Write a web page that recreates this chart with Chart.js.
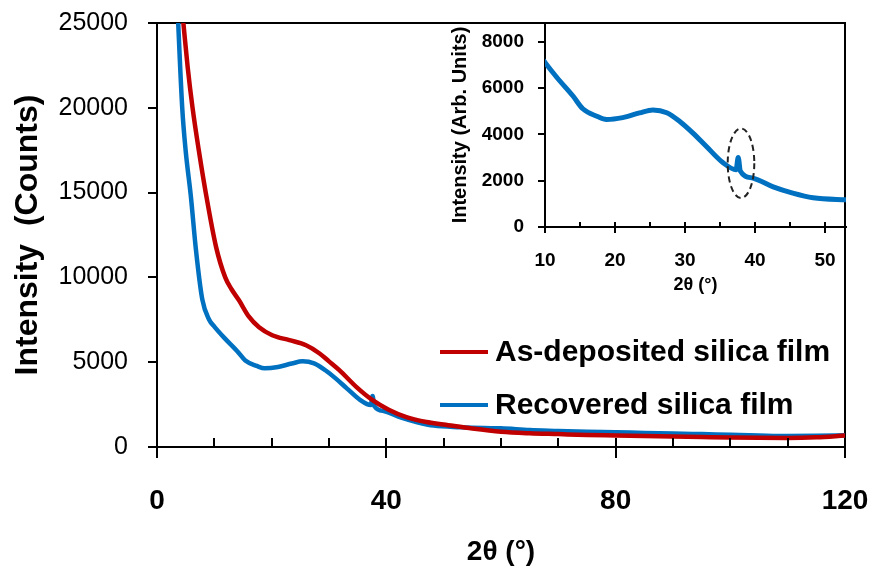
<!DOCTYPE html>
<html>
<head>
<meta charset="utf-8">
<script src="https://cdn.jsdelivr.net/npm/chart.js@4.4.0/dist/chart.umd.min.js"></script>
<style>
  body { margin: 0; background: #fff; }
  #wrap { position: relative; width: 875px; height: 574px; }
  #main { position: absolute; left: 0; top: 0; }
  #inset { position: absolute; left: 440px; top: 0; }
</style>
</head>
<body>
<div id="wrap">
  <canvas id="main" width="875" height="574"></canvas>
  <canvas id="inset" width="435" height="300"></canvas>
</div>
<script>
// values (2theta in degrees, intensity in counts)
const depositedAngle = [4.2, 4.6, 5.35, 6.2, 7.3, 8.5, 10.3, 11.9, 13.0, 14.3, 16.0, 17.8, 20.1, 23.1, 26.0, 28.3, 30.0, 31.8, 34.8, 37.6, 40.5, 43.5, 47.0, 50.0, 55.0, 60.0, 65.0, 70.0, 75.0, 80.0, 85.0, 90.0, 95.0, 100.0, 105.0, 110.0, 115.0, 120.0];
const depositedCounts = [26400, 25000, 22400, 20000, 17470, 15000, 11800, 10000, 9300, 8650, 7700, 7060, 6590, 6300, 6000, 5530, 5050, 4530, 3530, 2760, 2180, 1760, 1470, 1330, 1090, 900, 810, 760, 710, 680, 650, 620, 590, 560, 540, 530, 570, 680];

const recoveredAngle = [3.4, 3.7, 4.4, 5.0, 5.9, 6.8, 7.9, 9.1, 10.0, 11.7, 14.0, 15.4, 17.4, 18.8, 21.1, 23.5, 25.4, 27.4, 29.3, 31.1, 33.1, 35.4, 37.3, 37.6, 37.9, 39.7, 42.6, 45.4, 48.3, 53.0, 57.0, 60.0, 65.0, 70.0, 75.0, 80.0, 85.0, 90.0, 95.0, 100.0, 105.0, 110.0, 115.0, 120.0];
const recoveredCounts = [27500, 25000, 20000, 17470, 14800, 11600, 8700, 7500, 7100, 6450, 5650, 5100, 4780, 4640, 4720, 4920, 5050, 4930, 4540, 4060, 3460, 2780, 2470, 3000, 2420, 2110, 1730, 1460, 1260, 1170, 1120, 1100, 1000, 950, 900, 870, 830, 800, 760, 720, 680, 650, 660, 700];

const seriesLabels = ['As-deposited silica film', 'Recovered silica film'];
const mainXLabels = [0, 40, 80, 120];
const insetXTicks = [10, 15, 20, 25, 30, 35, 40, 45, 50];
const insetXLabels = [10, 20, 30, 40, 50];
const insetYTicks = [0, 2000, 4000, 6000, 8000];

// dashed ring around the small peak in the inset: centre and half-sizes in data units
const highlightCenter = [38.0, 2750];
const highlightRadius = [1.9, 1500];

const RED = '#C00000';
const BLUE = '#0070C0';
const FONT = '"Liberation Sans", Arial, sans-serif';

const pts = (xs, ys) => xs.map((x, i) => ({ x: x, y: ys[i] }));
const asTicks = vals => vals.map(v => ({ value: v }));

// short ticks pointing into the plot on the x axis
const innerTicks = {
  id: 'innerTicks',
  afterDatasetsDraw(chart, args, opts) {
    const { ctx, chartArea } = chart;
    const sx = chart.scales.x;
    ctx.save();
    ctx.strokeStyle = '#000';
    ctx.lineWidth = opts.width;
    sx.ticks.forEach(t => {
      const px = Math.round(sx.getPixelForValue(t.value));
      ctx.beginPath();
      ctx.moveTo(px, chartArea.bottom);
      ctx.lineTo(px, chartArea.bottom - opts.length);
      ctx.stroke();
    });
    ctx.restore();
  }
};

const lineLegend = {
  id: 'lineLegend',
  afterDraw(chart, args, opts) {
    const ctx = chart.ctx;
    ctx.save();
    ctx.font = opts.font;
    ctx.textBaseline = 'middle';
    chart.data.datasets.forEach((ds, i) => {
      const y = opts.top + i * opts.rowHeight;
      ctx.strokeStyle = ds.borderColor;
      ctx.lineWidth = 4;
      ctx.beginPath();
      ctx.moveTo(opts.left, y);
      ctx.lineTo(opts.left + opts.lineLength, y);
      ctx.stroke();
      ctx.fillStyle = '#000';
      ctx.fillText(ds.label, opts.left + opts.lineLength + opts.gap, y + 1);
    });
    ctx.restore();
  }
};

const highlight = {
  id: 'highlight',
  afterDatasetsDraw(chart) {
    const { ctx } = chart;
    const sx = chart.scales.x, sy = chart.scales.y;
    const cx = sx.getPixelForValue(highlightCenter[0]);
    const cy = sy.getPixelForValue(highlightCenter[1]);
    const rx = sx.getPixelForValue(highlightCenter[0] + highlightRadius[0]) - cx;
    const ry = cy - sy.getPixelForValue(highlightCenter[1] + highlightRadius[1]);
    ctx.save();
    ctx.strokeStyle = '#222';
    ctx.lineWidth = 2;
    ctx.setLineDash([6, 4]);
    ctx.beginPath();
    ctx.ellipse(cx, cy, rx, ry, 0, 0, Math.PI * 2);
    ctx.stroke();
    ctx.restore();
  }
};

// fixed axis size, and no extra room asked for the end labels
function fixX(h) {
  return s => { s.height = h; s.paddingLeft = 0; s.paddingRight = 0; };
}
function fixY(w) {
  return s => { s.width = w; s.paddingTop = 0; s.paddingBottom = 0; };
}

// unlabelled axes used only to hold the frame lines and fix the plot area
function frameAxis(position, size, show) {
  return {
    type: 'linear',
    position: position,
    display: true,
    ticks: { display: false },
    grid: { display: false, drawTicks: false },
    border: { display: show, color: '#000', width: 2 },
    afterFit: position === 'top' ? fixX(size) : fixY(size)
  };
}

new Chart(document.getElementById('main'), {
  type: 'line',
  data: {
    datasets: [
      { label: seriesLabels[0], data: pts(depositedAngle, depositedCounts), borderColor: RED, borderWidth: 4.5, pointRadius: 0, cubicInterpolationMode: 'monotone' },
      { label: seriesLabels[1], data: pts(recoveredAngle, recoveredCounts), borderColor: BLUE, borderWidth: 4.5, pointRadius: 0, cubicInterpolationMode: 'monotone' }
    ]
  },
  options: {
    responsive: false,
    animation: false,
    layout: { padding: 0 },
    plugins: {
      legend: { display: false },
      tooltip: { enabled: false },
      innerTicks: { length: 9, width: 2 },
      lineLegend: { left: 440, top: 352, rowHeight: 53, lineLength: 48, gap: 7, font: 'bold 30px ' + FONT }
    },
    scales: {
      x: {
        type: 'linear', min: 0, max: 120,
        ticks: {
          stepSize: 10, autoSkip: false, maxRotation: 0, padding: 26, color: '#000',
          font: { family: FONT, size: 28, weight: 'bold' },
          callback: v => mainXLabels.includes(v) ? String(v) : ''
        },
        grid: {
          drawOnChartArea: false, tickLength: 11, lineWidth: 2,
          color: c => (c.tick && mainXLabels.includes(c.tick.value)) ? '#000' : 'rgba(0,0,0,0)'
        },
        border: { color: '#000', width: 2 },
        title: { display: true, text: '2θ (°)', color: '#000', font: { family: FONT, size: 28, weight: 'bold' }, padding: { top: 0, bottom: 5 } },
        afterFit: fixX(127)
      },
      y: {
        type: 'linear', min: 0, max: 25000,
        ticks: { stepSize: 5000, padding: 20, color: '#000', font: { family: FONT, size: 25 }, callback: v => String(v) },
        grid: { drawOnChartArea: false, tickLength: 9, lineWidth: 2, color: '#000' },
        border: { color: '#000', width: 2 },
        title: { display: true, text: 'Intensity  (Counts)', color: '#000', font: { family: FONT, size: 32, weight: 'bold' }, padding: { top: 9, bottom: 0 } },
        afterFit: fixY(157)
      },
      xFrame: frameAxis('top', 23, true),
      yFrame: frameAxis('right', 30, true)
    }
  },
  plugins: [innerTicks, lineLegend]
});

new Chart(document.getElementById('inset'), {
  type: 'line',
  data: {
    datasets: [
      { label: seriesLabels[1], data: pts(recoveredAngle, recoveredCounts), borderColor: BLUE, borderWidth: 5, pointRadius: 0, cubicInterpolationMode: 'monotone' }
    ]
  },
  options: {
    responsive: false,
    animation: false,
    layout: { padding: 0 },
    plugins: {
      legend: { display: false },
      tooltip: { enabled: false },
      innerTicks: { length: 5, width: 2 }
    },
    scales: {
      x: {
        type: 'linear', min: 10, max: 53,
        afterBuildTicks: s => { s.ticks = asTicks(insetXTicks); },
        ticks: {
          autoSkip: false, maxRotation: 0, padding: 16, color: '#000',
          font: { family: FONT, size: 19, weight: 'bold' },
          callback: v => insetXLabels.includes(v) ? String(v) : ''
        },
        grid: {
          drawOnChartArea: false, tickLength: 6, lineWidth: 2,
          color: c => (c.tick && insetXLabels.includes(c.tick.value)) ? '#000' : 'rgba(0,0,0,0)'
        },
        border: { color: '#000', width: 2 },
        title: { display: true, text: '2θ (°)', color: '#000', font: { family: FONT, size: 18, weight: 'bold' }, padding: { top: 1 } },
        afterFit: fixX(73)
      },
      y: {
        type: 'linear', min: 0, max: 8800,
        afterBuildTicks: s => { s.ticks = asTicks(insetYTicks); },
        ticks: { padding: 14, color: '#000', font: { family: FONT, size: 19, weight: 'bold' }, callback: v => String(v) },
        grid: { drawOnChartArea: false, tickLength: 7, lineWidth: 2, color: '#000' },
        border: { color: '#000', width: 2 },
        title: { display: true, text: 'Intensity (Arb. Units)', color: '#000', font: { family: FONT, size: 20, weight: 'bold' }, padding: { top: 8, bottom: 0 } },
        afterFit: fixY(105)
      },
      xFrame: frameAxis('top', 23, false),
      yFrame: frameAxis('right', 29, false)
    }
  },
  plugins: [innerTicks, highlight]
});
</script>
</body>
</html>
